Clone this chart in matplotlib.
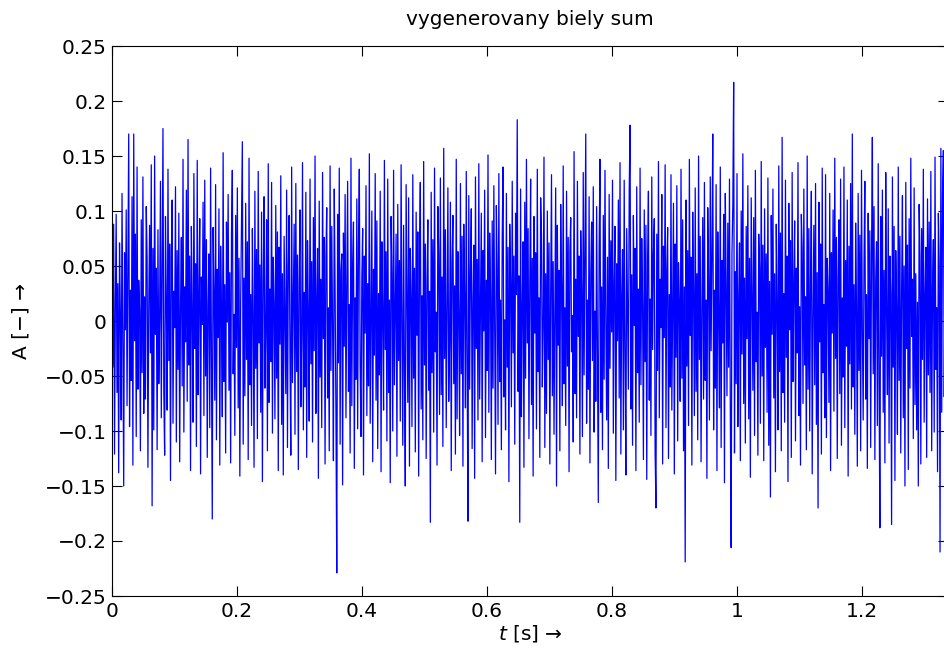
import matplotlib
matplotlib.use("Agg")
import matplotlib.pyplot as plt
import numpy as np

plt.rcParams['font.family'] = ['DejaVu Sans']

# vzorkovacia frekvencia a odcitane hodnoty sumu (v tisicinach)
fs = 748
sum_mili = [
    153, -42, 88, -121, 12, 97, -65, 34, -138, 71, 5, -90, 116, -23, -150, 62, -8, 101, -77, 45,
    170, -96, 28, -54, 113, -131, 170, -18, 79, -105, 140, -62, 37, 9, -118, 92, -47, 131, -84, 22,
    -71, 104, 58, -133, 16, 87, -29, 142, -168, 66, -99, 150, -12, 48, -117, 83, -57, 3, 127, -88,
    41, 175, -64, -122, 95, 19, -81, 138, -36, 70, -145, 55, 110, -93, 27, -6, 122, -110, 64, -44,
    98, -128, 13, 76, -59, 147, -101, 31, -19, 119, -73, 165, -40, 59, -136, 86, 7, -92, 134, -25,
    52, -114, 146, -67, 21, 93, -139, 40, -3, 108, -86, 128, -50, 74, -124, 15, 61, -97, 139, -33,
    -180, 85, 26, -72, 124, -108, 47, -15, 102, -131, 68, 11, -87, 153, -55, 33, -120, 90, -1, 115,
    -63, 44, -129, 78, 137, -48, 6, -104, 96, -24, 121, -79, 57, -141, 18, 89, 163, -112, 39, -68,
    107, -35, 72, -126, 148, -58, 24, -95, 84, 4, -133, 118, -43, 65, -107, 136, -20, 51, -83, 99,
    -146, 36, 113, -61, -9, 92, -118, 143, -74, 29, -37, 126, -102, 58, 14, -89, 105, -52, 81, -136,
    67, -21, 132, -94, 43, -140, 77, 2, -66, 119, -115, 49, 96, -30, -122, 140, -56, 17, 88, -103,
    125, -46, 60, -135, 35, 101, -78, -14, 144, -99, 26, -60, 117, -124, 73, 8, -91, 129, -39, 54,
    -110, 94, -27, 150, -84, 18, 66, -143, 109, -51, 38, -97, 135, -16, 76, -130, 57, 103, -70, 12,
    -118, 141, -45, 86, -6, -127, 120, 29, -82, -229, 97, -38, 139, -112, 46, 61, -149, 80, -23, 115,
    -88, 32, 127, -64, 15, -120, 148, -77, 52, 90, -134, 21, -53, 111, -98, 68, 138, -41, -105, 39,
    84, -140, 59, -11, 123, -86, 34, -59, 152, -93, 7, 100, -128, 47, -31, 134, -72, 91, -116, 25,
    -49, 118, -137, 72, 5, -81, 146, -26, 63, -109, 129, -65, 19, -147, 95, 42, -100, 137, -58, 10,
    79, -123, 106, -36, 55, -91, 142, 0, -113, 87, -44, -150, 124, 31, -74, 112, -132, 66, 20, -96,
    133, -52, 48, -119, 99, -13, 81, -141, 57, 126, -80, 23, -108, 145, -40, 70, -125, 36, 92, -63,
    27, -183, 117, -47, 74, -101, 139, -28, 8, -131, 104, 61, -85, 130, -67, 40, -114, 157, -34, 83,
    -97, 15, 121, -73, -18, 108, -136, 53, 96, -57, 32, -121, 147, -89, 63, 4, -104, 125, -48, 77,
    -132, 88, 22, -79, 136, -37, -182, 114, -62, 45, 102, -116, 17, 69, -143, 131, -25, 56, -90, 143,
    -71, 10, 98, -128, 64, -9, 119, -106, 37, -45, 151, -83, 80, 28, -126, 91, -61, 123, -17, -139,
    105, 48, -94, 134, -55, 19, -117, 76, 140, -69, 1, -99, 116, -42, 67, -146, 88, 35, -78, 127,
    -29, 59, -112, 98, 24, 183, -64, 41, -183, 120, -87, 13, 72, -133, 108, -52, 147, -20, 84, -107,
    33, 129, -76, 57, -141, 95, -11, 62, -98, 138, -46, 21, -124, 112, 79, -60, -7, 149, -115, 43,
    -84, 100, -35, 71, -130, 25, 133, -68, 54, -103, 16, 121, -150, 87, -22, 46, -118, 106, 30, -77,
    141, -57, 12, -95, 118, -41, 76, -137, 63, 94, -28, 5, -110, 154, -66, 38, -88, 127, -14, 59,
    -121, 82, 27, -105, 135, -49, 68, 170, -93, 19, -62, 113, -129, 44, 90, -36, 122, -101, 9, -73,
    104, -24, -165, 66, 147, -83, 31, -117, 96, -53, 137, 2, -90, 58, -134, 115, -43, 73, -10, 128,
    -102, 35, 86, -145, 52, -18, 110, -70, 144, -121, 23, 65, -99, 128, -31, -140, 84, 11, -62, 119,
    178, -80, 42, -113, 96, -4, 66, -136, 122, -47, 29, -92, 139, -58, 75, 14, -126, 101, -37, 87,
    -144, 56, 118, -72, 20, -104, 131, -26, 61, 93, -119, -170, 79, -45, 145, -88, 38, -6, 115, -130,
    68, -15, 142, -97, 47, 85, -125, 24, -60, 133, -81, 9, 107, -139, 70, -33, 123, -109, 53, 16,
    -73, 138, -52, 92, -118, 31, -219, 110, -41, 64, -95, 147, -13, 58, -131, 99, 26, -86, 121, -64,
    43, -108, 150, -35, 77, -128, 12, 94, -71, 126, -54, 19, -143, 103, 37, -90, 131, -27, 62, 170,
    -99, 28, -61, 124, -136, 81, 6, -79, 140, -115, 55, -20, 97, -147, 116, 34, -68, 89, -42, 129,
    -84, -206, 63, 105, 217, -120, 45, -57, 134, -96, 18, 71, -127, 100, -30, 152, -75, 39, -111, 86,
    -16, 123, -89, 57, -142, 112, 26, -63, 94, -104, 137, -37, 8, -122, 79, 48, -93, 145, -50, 69,
    -127, 102, -24, 61, -83, 130, -113, 36, -160, 96, -12, 120, -70, 43, -137, 88, 17, -99, 141, -46,
    80, -118, 167, -65, 25, -92, 128, -33, 59, -146, 107, -8, 73, -124, 135, -55, 31, 91, -109, 48,
    -29, 144, -86, 13, -131, 97, 66, -75, 120, -40, 22, -117, 150, -62, 84, -100, 38, 118, -139, 3,
    87, -58, 125, -94, 44, -170, 108, -19, 70, -121, 139, -47, 15, -88, 133, -106, 57, 27, -74, 116,
    -136, 62, -11, 101, -82, 148, -34, 76, -125, 39, 92, -66, 129, -113, 21, -51, 140, -97, 55, -23,
    110, -141, 68, -39, 125, -80, 170, -60, 33, -103, 89, 14, -132, 116, -45, 78, -118, 137, -7, -90,
    53, 127, -71, 24, -134, 98, -16, 82, -115, 61, 167, -48, 104, -126, 37, 72, -95, 143, -56, -188,
    95, -32, 119, -83, 46, -129, 135, 8, -67, 102, -111, 59, 25, -185, 131, -42, 86, -145, 64, 10,
    -103, 140, -54, 77, -120, 29, 114, -88, 50, -150, 126, -25, 69, -135, 93, -61, 148, -14, 38, -107,
    121, -76, 43, -99, 17, -150, 106, 58, -130, 84, -35, 138, -92, 23, 67, -124, 111, -49, 90, -65,
    136, -118, 30, 74, -101, 149, -44, 12, -137, 98, 52, -210, 157, -83, 115, 155, -69, 40, -128, 94,
]

A = np.array(sum_mili) / 1000.0
t = np.arange(len(A)) / fs

fig = plt.figure(figsize=(9.44, 6.56), dpi=100)
ax = fig.add_axes([112/944, 1 - 596/656, 836/944, 550/656])
ax.plot(t, A, color='#0000ff', linewidth=0.9)

ax.set_xlim(0, 1.3376)
ax.set_ylim(-0.25, 0.25)
ax.set_xticks([0, 0.2, 0.4, 0.6, 0.8, 1.0, 1.2])
ax.set_xticklabels(['0', '0.2', '0.4', '0.6', '0.8', '1', '1.2'])
ax.set_yticks(np.arange(-0.25, 0.26, 0.05))
ax.set_yticklabels(['\u22120.25', '\u22120.2', '\u22120.15', '\u22120.1', '\u22120.05', '0',
                    '0.05', '0.1', '0.15', '0.2', '0.25'])
ax.tick_params(direction='in', top=True, right=True, length=7, width=0.8,
               labelsize=14.5, pad=4)
for s in ax.spines.values():
    s.set_linewidth(0.8)

ax.set_title('vygenerovany biely sum', fontsize=14.5, pad=15)
ax.set_xlabel('$t$ [s] \u2192', fontsize=14.5, labelpad=2)
ax.set_ylabel('A [\u2212] \u2192', fontsize=14.5, labelpad=10)

fig.savefig('out.png', dpi=100)
